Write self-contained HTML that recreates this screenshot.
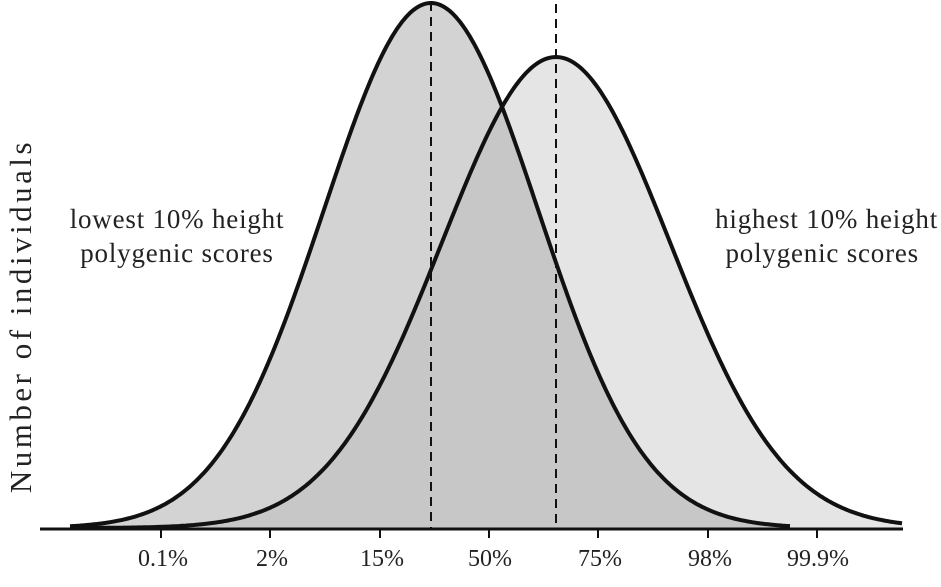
<!DOCTYPE html>
<html><head><meta charset="utf-8"><style>
html,body{margin:0;padding:0;background:#fff}
svg{display:block}
text{font-family:"Liberation Serif",serif;fill:#222}
</style></head><body>
<svg id="s" width="941" height="587" viewBox="0 0 941 587">
<path id="ponly" fill="#e4e5e4"/>
<path id="lonly" fill="#d3d3d3"/>
<path id="ov" fill="#c6c7c6"/>
<line x1="431" y1="2" x2="431" y2="528" stroke="#111" stroke-width="2" stroke-dasharray="9,6"/>
<line x1="556" y1="4" x2="556" y2="528" stroke="#111" stroke-width="2" stroke-dasharray="9,6"/>
<path id="lc" fill="none" stroke="#111" stroke-width="4"/>
<path id="rc" fill="none" stroke="#111" stroke-width="4"/>
<line x1="40" y1="529" x2="903" y2="529" stroke="#111" stroke-width="3"/>
<g stroke="#111" stroke-width="2">
<line x1="161" y1="529" x2="161" y2="538"/><line x1="270" y1="529" x2="270" y2="538"/>
<line x1="380" y1="529" x2="380" y2="538"/><line x1="489" y1="529" x2="489" y2="538"/>
<line x1="598" y1="529" x2="598" y2="538"/><line x1="708" y1="529" x2="708" y2="538"/>
<line x1="817" y1="529" x2="817" y2="538"/></g>
<g font-size="24" text-anchor="middle">
<text x="163" y="566">0.1%</text><text x="272" y="566">2%</text><text x="382" y="566">15%</text>
<text x="490" y="566">50%</text><text x="600" y="566">75%</text><text x="710" y="566">98%</text>
<text x="818" y="566">99.9%</text></g>
<g font-size="27" letter-spacing="0.8">
<text x="177" y="228" text-anchor="middle">lowest 10% height</text>
<text x="177" y="262" text-anchor="middle">polygenic scores</text>
<text x="938" y="228" text-anchor="end">highest 10% height</text>
<text x="919" y="262" text-anchor="end">polygenic scores</text>
<text transform="translate(31,316) rotate(-90)" text-anchor="middle" font-size="31" letter-spacing="3.5">Number of individuals</text>
</g>
</svg>
<script>
var B=528;
function L(x){return B-525*Math.exp(-Math.pow(x-431,2)/(2*107*107));}
function R(x){return B-471*Math.exp(-Math.pow(x-556,2)/(2*114*114));}
function path(f,x0,x1,close){var d="M"+x0+","+B;for(var x=x0;x<=x1;x+=2)d+=" L"+x+","+f(x).toFixed(1);d+=" L"+x1+","+B+(close?"Z":"");return d;}
function line(f,x0,x1){var d="";for(var x=x0;x<=x1;x+=2)d+=(x==x0?"M":" L")+x+","+f(x).toFixed(1);return d;}
document.getElementById("ponly").setAttribute("d",path(R,70,903,true));
document.getElementById("lonly").setAttribute("d",path(L,70,790,true));
document.getElementById("ov").setAttribute("d",path(function(x){return Math.max(L(x),R(x));},70,790,true));
document.getElementById("lc").setAttribute("d",line(L,70,790));
document.getElementById("rc").setAttribute("d",line(R,70,903));
</script>
</body></html>
